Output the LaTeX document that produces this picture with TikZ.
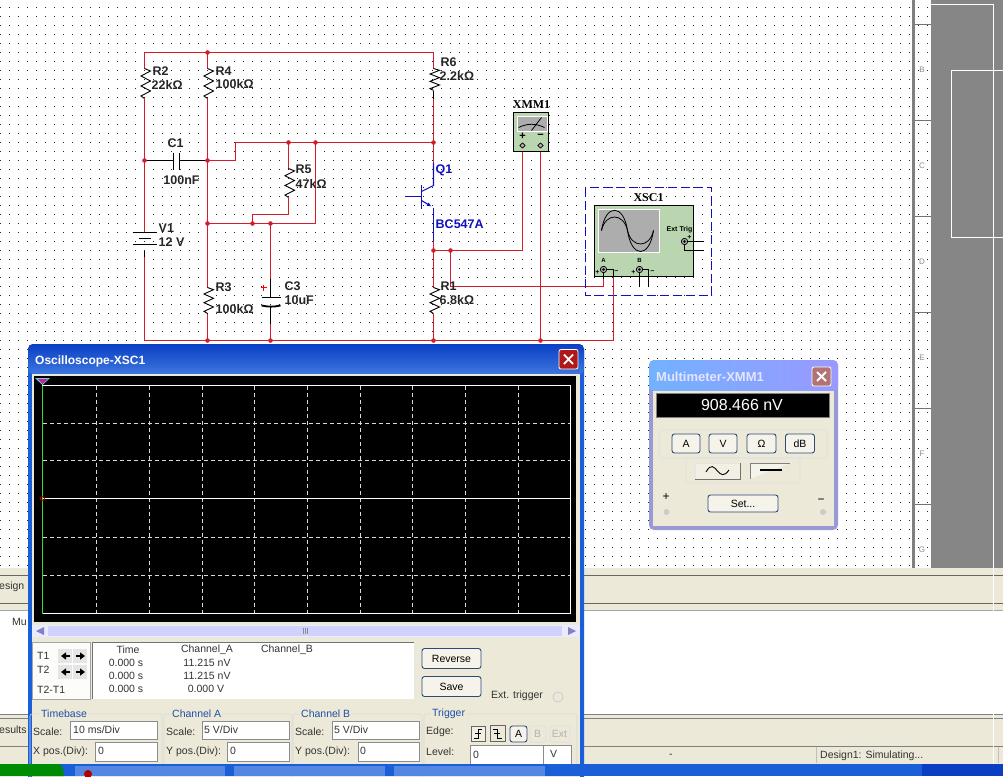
\documentclass[tikz,border=0pt]{standalone}
\usepackage{fontspec}
\setmainfont{Liberation Sans}
\newfontfamily\djv{DejaVu Sans}
\newfontfamily\mono{Liberation Serif}
\usetikzlibrary{arrows.meta,calc}
\definecolor{wirered}{HTML}{D21E2C}
\definecolor{partblue}{HTML}{1010C0}
\definecolor{instgreen}{HTML}{BAD6B0}
\definecolor{beige}{HTML}{ECE9D8}
\definecolor{xpblue}{HTML}{1A5FD8}
\definecolor{xpdark}{HTML}{0A3FC4}
\definecolor{railgrey}{HTML}{808080}
\definecolor{btnedge}{HTML}{2B4A78}
\definecolor{labelblue}{HTML}{1F4FA8}
\tikzset{
  wire/.style={draw=wirered,line width=1.1pt},
  part/.style={draw=black,line width=1pt},
  qpart/.style={draw=partblue,line width=1.1pt},
  junction/.style={circle,fill=wirered,draw=none,minimum size=4.6pt,inner sep=0pt},
  lbl/.style={anchor=west,inner sep=0pt,font=\fontsize{12.5}{12.5}\selectfont\bfseries,text=black!85},
  qlbl/.style={lbl,text=partblue},
  insttitle/.style={inner sep=0pt,font=\mono\fontsize{12}{12}\selectfont\bfseries},
  dlg/.style={anchor=west,inner sep=0pt,font=\fontsize{10.5}{10.5}\selectfont,text=black!80},
  dlgc/.style={inner sep=0pt,font=\fontsize{10.5}{10.5}\selectfont,text=black!80},
  grp/.style={anchor=west,inner sep=0pt,font=\fontsize{10.5}{10.5}\selectfont,text=labelblue},
  field/.style={draw=black!45,fill=white,line width=.6pt},
  xpbtn/.style={draw=btnedge,fill=beige!55!white,rounded corners=2.5pt,line width=.9pt},
  grpline/.style={draw=black!15,line width=.6pt,rounded corners=2pt},
  rulelbl/.style={inner sep=0pt,font=\fontsize{8}{8}\selectfont,text=black!45},
  gridl/.style={draw=white!85!black,line width=.8pt,dash pattern=on 4pt off 3pt},
}
\newcommand{\resis}[3]{% x, top, bottom
  \draw[part,line width=.9pt] (#1,#2)
    \foreach \i/\o in {1/6,3/-3.5,5/6,7/-3.5,9/6,11/-3.5}{ -- ({#1+\o},{#2+(#3-#2)*\i/12}) } -- (#1,#3);}
\begin{document}
\begin{tikzpicture}[x=1pt,y=-1pt]
\useasboundingbox (0,0) rectangle (1003,776);
\fill[white] (0,0) rectangle (1003,776);
% sheet dots, as dashed rows
\foreach \r in {0,...,62}{
  \draw[black!85,line width=1pt,dash pattern=on 1pt off 8pt] (0,{7.5+9*\r}) -- (931,{7.5+9*\r});
}
% right rail and grey desk
\fill[railgrey] (912,0) rectangle (915,568);
\fill[railgrey!95] (931,0) rectangle (1003,568);
\draw[white,line width=1pt] (931,4.5) -- (993.5,4.5) (993.5,4.5) -- (993.5,568);
\draw[white,line width=1pt] (951.5,237.5) -- (951.5,70.5) -- (1003,70.5) (951.5,237.5) -- (1003,237.5);
\foreach \y in {24,120,216,312,408,504}{\draw[black!55,line width=1pt] (915,\y+.5) -- (931,\y+.5);}
\node[rulelbl] (rB) at (922,70) {B};
\node[rulelbl] (rC) at (922,166) {C};
\node[rulelbl] (rD) at (922,262) {D};
\node[rulelbl] (rE) at (922,358) {E};
\node[rulelbl] (rF) at (922,454) {F};
\node[rulelbl] (rG) at (922,550) {G};
% lower bands
\fill[beige] (0,568) rectangle (1003,611);
\draw[black!60,line width=1pt] (0,575.5) -- (1003,575.5) (0,603.5) -- (1003,603.5);
\draw[black!35,line width=1pt] (0,610.5) -- (1003,610.5);
\fill[beige] (0,714) rectangle (1003,764);
\draw[black!50,line width=1pt] (0,714.5) -- (1003,714.5) (0,718.5) -- (1003,718.5);
\draw[black!50,line width=1pt] (0,746.5) -- (1003,746.5);
\draw[black!25,line width=1pt] (816.5,747) -- (816.5,763) (998.5,747) -- (998.5,763);
\draw[white,line width=.7pt] (993.5,568) -- (993.5,611) (993.5,714) -- (993.5,764);
\node[dlg] (tabd) at (-1,587) {esign};
\node[dlg] (tabm) at (12,622) {Mu};
\node[dlg] (tabr) at (-1,730) {esults};
\node[dlg] (dash) at (669,756) {-};
\node[dlg] (stat) at (820,756) {Design1: Simulating...};
\begin{scope}[shift={(0.5,0.5)}]
% coordinates
\coordinate (TL) at (144,52);
\coordinate (T4) at (207,52);
\coordinate (TR) at (433,52);
\coordinate (BL) at (144,340);
\coordinate (B3) at (207,340);
\coordinate (Bc) at (270,340);
\coordinate (Br) at (433,340);
\coordinate (Bm) at (540,340);
\coordinate (BA) at (613,340);
\coordinate (C1l) at (144,160);
\coordinate (C1r) at (207,160);
\coordinate (K1) at (235,160);
\coordinate (K2) at (235,142);
\coordinate (J5) at (288,142);
\coordinate (J6) at (315,142);
\coordinate (JC) at (433,142);
\coordinate (Jb) at (207,223);
\coordinate (Jk) at (252,223);
\coordinate (Jc) at (270,223);
\coordinate (K3) at (315,223);
\coordinate (K4) at (288,214);
\coordinate (K5) at (252,214);
\coordinate (Je) at (433,250);
\coordinate (Jo) at (450,250);
\coordinate (K6) at (522,250);
\coordinate (K7) at (450,286);
\coordinate (K8) at (603,286);
\coordinate (K9) at (522,151);
\coordinate (K10) at (540,151);
\coordinate (K11) at (613,270);
% wires
\draw[wire] (144,68) -- (TL) -- (TR) -- (433,68);
\draw[wire] (T4) -- (207,68);
\draw[wire] (144,98) -- (C1l) -- (144,232);
\draw[wire] (144,250) -- (BL) -- (BA) -- (K11);
\draw[wire] (207,98) -- (C1r) -- (Jb) -- (207,287);
\draw[wire] (207,313) -- (B3);
\draw[wire] (C1r) -- (K1) -- (K2) -- (JC);
\draw[wire] (433,98) -- (JC) -- (433,162);
\draw[wire] (J5) -- (288,168);
\draw[wire] (288,197) -- (K4) -- (K5) -- (Jk);
\draw[wire] (Jb) -- (K3) -- (J6);
\draw[wire] (Jc) -- (270,278);
\draw[wire] (270,323) -- (Bc);
\draw[wire] (433,240) -- (Je) -- (433,287);
\draw[wire] (433,313) -- (Br);
\draw[wire] (Je) -- (K6) -- (K9);
\draw[wire] (Jo) -- (K7) -- (K8);
\draw[wire] (K10) -- (Bm);
% resistors
\resis{144}{68}{98}
\resis{207}{68}{98}
\resis{433}{68}{90}
\resis{288}{168}{197}
\resis{207}{287}{313}
\resis{433}{287}{313}
\draw[part] (433,90) -- (433,98);
% C1
\draw[part] (C1l) -- (173,160) (179,160) -- (C1r);
\draw[part,line width=1.7pt] (173,152) -- (173,169) (179,152) -- (179,169);
% V1
\draw[part] (132,232) -- (156,232) (132,243.5) -- (156,243.5);
\draw[part] (138,238) -- (150,238);
\draw[part] (144,250) -- (144,256);
\foreach \j in {T4,C1l,C1r,J5,J6,JC,Jb,Jk,Jc,B3,Bc,Br,Bm,Je,Jo}{\node[junction] at (\j) {};}
% C3
\draw[part] (270,278) -- (270,297) (270,305) -- (270,323);
\draw[part,line width=1.8pt] (261,297) -- (280,297);
\draw[part,line width=1.8pt] (261,305) to[bend right=12] (280,305);
\draw[red,line width=.8pt] (260,287) -- (266,287) (263,284) -- (263,290);
% Q1
\draw[qpart] (433,162) -- (433,185) -- (421,191);
\draw[qpart,line width=1.2pt] (421,184) -- (421,208);
\draw[qpart] (405,196) -- (421,196);
\draw[qpart,-{Latex[length=4.5pt,width=4pt]}] (421,200) -- (431,206);
\draw[qpart] (433,207) -- (433,240);
% labels
\node[lbl] (R2) at (152,71) {R2};
\node[lbl] (R2v) at (151,84) {22kΩ};
\node[lbl] (R4) at (215,71) {R4};
\node[lbl] (R4v) at (215,84) {100kΩ};
\node[lbl] (R6) at (440,62) {R6};
\node[lbl] (R6v) at (439,75) {2.2kΩ};
\node[lbl,anchor=center] (C1) at (175,143) {C1};
\node[lbl,anchor=center] (C1v) at (181,180) {100nF};
\node[lbl] (R5) at (295,169) {R5};
\node[lbl] (R5v) at (295,183) {47kΩ};
\node[lbl] (V1) at (158,228) {V1};
\node[lbl] (V1v) at (158,242) {12 V};
\node[lbl] (R3) at (215,287) {R3};
\node[lbl] (R3v) at (215,309) {100kΩ};
\node[lbl] (C3) at (284,286) {C3};
\node[lbl] (C3v) at (284,300) {10uF};
\node[lbl] (R1) at (440,286) {R1};
\node[lbl] (R1v) at (439,300) {6.8kΩ};
\node[qlbl] (Q1) at (435,170) {Q1};
\node[qlbl] (Q1v) at (435,224) {BC547A};
% XMM1 instrument
\node[insttitle] (XMM) at (531,104) {XMM1};
\draw[black,fill=instgreen,line width=1pt] (513,112) rectangle (548,151);
\fill[black!32] (517,116) rectangle (547,131);
\draw[white,line width=.8pt] (517,116) rectangle (547,131);
\draw[black,line width=.8pt] (518,127) to[bend left=25] (544,127) (531,130) -- (541,117);
\node[inner sep=0pt,font=\fontsize{11}{11}\selectfont\bfseries] (mp) at (522,136) {+};
\node[inner sep=0pt,font=\fontsize{11}{11}\selectfont\bfseries] (mm) at (540,136) {−};
\foreach \x in {522,540}{\draw[black,fill=black!30,line width=.7pt] (\x,142.5) -- (\x+2.7,145) -- (\x,147.5) -- (\x-2.7,145) -- cycle;}
% XSC1 instrument
\draw[partblue,line width=1pt,dash pattern=on 9pt off 4pt] (585,187) rectangle (711,295);
\node[insttitle] (XSC) at (648,197) {XSC1};
\draw[black,fill=instgreen,line width=1pt] (594,205) rectangle (693,276);
\fill[black!32] (598,209) rectangle (659,252);
\draw[white,line width=.8pt] (598,209) rectangle (659,252);
\draw[black,line width=.8pt] (601,230) .. controls (605,203) and (623,203) .. (627,230) .. controls (631,258) and (649,258) .. (653,230);
\draw[black,line width=.8pt] (601,230) .. controls (605,212) and (623,212) .. (627,230) .. controls (631,248) and (649,248) .. (653,230);
\node[inner sep=0pt,font=\fontsize{7}{7}\selectfont\bfseries] (xext) at (679,229.5) {Ext Trig};
\node[inner sep=0pt,font=\fontsize{6}{6}\selectfont\bfseries] (xa) at (603,260) {A};
\node[inner sep=0pt,font=\fontsize{6}{6}\selectfont\bfseries] (xb) at (639,260) {B};
\foreach \t/\x/\y in {ap/597/272,bp/633/272,ep/689/237}{\node[inner sep=0pt,font=\fontsize{7}{7}\selectfont\bfseries] (x\t) at (\x,\y) {+};}
\foreach \t/\x/\y in {am/616/272,bm/652/272,em/689/252}{\node[inner sep=0pt,font=\fontsize{7}{7}\selectfont\bfseries] (x\t) at (\x,\y) {−};}
\draw[black,line width=.8pt] (603,269) -- (603,286) (603,269) -- (613,269) -- (613,276);
\draw[wire] (603,278) -- (603,286);
\draw[wire] (613,276) -- (613,340);
\draw[black,line width=.8pt] (639,269) -- (639,286) (639,269) -- (648,269) -- (648,286);
\draw[black,line width=.8pt] (684,241) -- (703,241) (684,241) -- (684,250) -- (703,250);
\foreach \x/\y in {603/269,639/269,684/241}{\draw[black,fill=black!35,line width=.7pt] (\x,\y) circle (3.2pt); \fill[black] (\x,\y) circle (1.4pt);}
\end{scope}
% ===== Oscilloscope window =====
\fill[xpblue,rounded corners=5pt] (28,344) rectangle (584,790);
\shade[rounded corners=5pt,top color=xpdark,bottom color=xpblue!85!white] (28,344) rectangle (584,374);
\fill[beige] (32,374) rectangle (580,790);
\node[inner sep=0pt,anchor=west,text=white,font=\fontsize{12}{12}\selectfont\bfseries] (otitle) at (35,361) {Oscilloscope-XSC1};
\draw[white,fill=red!65!black!90,rounded corners=2pt,line width=.8pt] (559,349.5) rectangle (578,369);
\draw[white,line width=1.8pt] (564,354.5) -- (573,364) (573,354.5) -- (564,364);
% screen
\fill[black] (34,376) rectangle (576,622);
\begin{scope}[shift={(0.5,0.5)}]
\foreach \x in {96,149,202,254,307,360,412,465,518}{\draw[gridl] (\x,385) -- (\x,613);}
\foreach \y in {423,460,537,575}{\draw[gridl] (42,\y) -- (570,\y);}
\draw[white,line width=1pt] (42,385) rectangle (570,613);
\draw[green!75!white!85!black,line width=1pt] (42,385) -- (42,613);
\draw[white,line width=1.1pt] (42,498) -- (570,498);
\draw[red!85!black,line width=.7pt] (42,498) circle (2pt);
\end{scope}
\fill[cyan!60!white] (35,378) -- (50,378) -- (42.5,385) -- cycle;
\fill[magenta!85!black] (38,379) -- (48,379) -- (42.5,384) -- cycle;
% scrollbar
\fill[blue!8!white] (32,625) rectangle (580,637);
\fill[blue!18!white] (48,626) rectangle (562,636);
\fill[blue!55!black!50] (36,631) -- (44,627) -- (44,635) -- cycle (576,631) -- (568,627) -- (568,635) -- cycle;
\foreach \x in {303,305,307}{\draw[black!45,line width=.5pt] (\x,628) -- (\x,634);}
% cursor table
\draw[black!35,line width=.8pt,fill=beige!80!black!5] (32,642) rectangle (90,699);
\node[dlg] (t1) at (37,656) {T1};
\node[dlg] (t2) at (37,670) {T2};
\node[dlg] (t21) at (37,690) {T2-T1};
\foreach \x/\y in {65/656,80/656,65/672,80/672}{
  \fill[black!10] (\x-7,\y-7) rectangle (\x+7,\y+7);
}
\draw[-{Triangle[length=5pt,width=7pt]},line width=1.6pt] (70,656) -- (61,656);
\draw[-{Triangle[length=5pt,width=7pt]},line width=1.6pt] (76,656) -- (85,656);
\draw[-{Triangle[length=5pt,width=7pt]},line width=1.6pt] (70,672) -- (61,672);
\draw[-{Triangle[length=5pt,width=7pt]},line width=1.6pt] (76,672) -- (85,672);
\fill[white] (92,642) rectangle (414,699);
\draw[black!55,line width=1pt] (92,699) -- (92,642) -- (414,642);
\node[dlgc] (h1) at (128,650) {Time};
\node[dlgc] (h2) at (207,650) {Channel\_A};
\node[dlgc] (h3) at (287,650) {Channel\_B};
\node[dlgc] (a1) at (126,663) {0.000 s};
\node[dlgc] (a2) at (126,676) {0.000 s};
\node[dlgc] (a3) at (126,689) {0.000 s};
\node[dlgc] (b1) at (207,663) {11.215 nV};
\node[dlgc] (b2) at (207,676) {11.215 nV};
\node[dlgc] (b3) at (206,689) {0.000 V};
\node[xpbtn,minimum width=59pt,minimum height=20pt,inner sep=0pt,font=\fontsize{10.5}{10.5}\selectfont] (rev) at (451.5,658.5) {Reverse};
\node[xpbtn,minimum width=59pt,minimum height=20pt,inner sep=0pt,font=\fontsize{10.5}{10.5}\selectfont] (sav) at (451.5,686.5) {Save};
\node[dlg] (ext) at (491,696) {Ext. trigger};
\draw[black!20,line width=.8pt] (558,697) circle (5pt);
% group boxes
\draw[grpline] (30,714) rectangle (162,780);
\draw[grpline] (164,714) rectangle (292,780);
\draw[grpline] (293,714) rectangle (422,780);
\draw[grpline] (424,714) rectangle (577,780);
\node[grp,fill=beige,inner xsep=1pt] (gt) at (40,714) {Timebase};
\node[grp,fill=beige,inner xsep=1pt] (ga) at (171,714) {Channel A};
\node[grp,fill=beige,inner xsep=1pt] (gb) at (300,714) {Channel B};
\node[grp,fill=beige,inner xsep=1pt] (gr) at (431,714) {Trigger};
\draw[field] (70.5,721) rectangle (157,739);
\draw[field] (95,742) rectangle (157,761);
\draw[field] (202,721) rectangle (289,739);
\draw[field] (227,742) rectangle (289,761);
\draw[field] (332,721) rectangle (419,739);
\draw[field] (358,742) rectangle (419,761);
\draw[field] (470,745) rectangle (543,770);
\draw[field] (543,745) rectangle (571,770);
\node[dlg] (s1) at (33,732) {Scale:};
\node[dlg] (s1v) at (73,730) {10 ms/Div};
\node[dlg] (x1) at (33,752) {X pos.(Div):};
\node[dlg] (x1v) at (98,751) {0};
\node[dlg] (s2) at (166,732) {Scale:};
\node[dlg] (s2v) at (204,730) {5  V/Div};
\node[dlg] (y2) at (166,752) {Y pos.(Div):};
\node[dlg] (y2v) at (230,751) {0};
\node[dlg] (s3) at (295,732) {Scale:};
\node[dlg] (s3v) at (334,730) {5  V/Div};
\node[dlg] (y3) at (295,752) {Y pos.(Div):};
\node[dlg] (y3v) at (360,751) {0};
\node[dlg] (e1) at (426,732) {Edge:};
\node[dlg] (l1) at (426,752) {Level:};
\node[dlg] (l1v) at (473,755) {0};
\node[dlg] (l1u) at (550,754) {V};
% edge buttons
\draw[black!60,fill=beige!70!white,line width=.8pt] (471,726) rectangle (485,741);
\draw[black!60,fill=beige,line width=.8pt] (490,725) rectangle (505,741);
\draw[black,line width=.9pt] (474,738) -- (478,738) -- (478,729) -- (482,729) (475,733.5) -- (481,733.5);
\draw[black,line width=.9pt] (493,729) -- (497,729) -- (497,738) -- (502,738) (494,733.5) -- (500,733.5);
\node[xpbtn,minimum width=17pt,minimum height=16pt,inner sep=0pt,font=\fontsize{10.5}{10.5}\selectfont] (tA) at (518.5,734) {A};
\node[inner sep=0pt,text=black!30,font=\fontsize{10.5}{10.5}\selectfont] (tB) at (537.5,734) {B};
\node[inner sep=0pt,text=black!30,font=\fontsize{10.5}{10.5}\selectfont] (tE) at (559.5,734) {Ext};
\draw[black!12,rounded corners=2pt,line width=.7pt] (530,726) rectangle (546,742) (550,726) rectangle (570,742);
% taskbar, over the window
\fill[xpblue] (0,764) rectangle (1003,776);
\fill[green!55!black] (0,764) -- (58,764) to[out=0,in=100] (64,776) -- (0,776) -- cycle;
\foreach \a/\b in {75/225,234/385,394/545}{\fill[xpblue!75!white] (\a,766) rectangle (\b,776);}
\fill[xpdark] (922,764) rectangle (1003,776);
\fill[red!70!black] (88,774) circle (4pt);
% ===== Multimeter window =====
\fill[blue!60!black!40!white,rounded corners=5pt] (649,360) rectangle (838,530);
\shade[rounded corners=5pt,left color=blue!55!cyan!55!white,right color=blue!40!white] (649,360) rectangle (838,391);
\fill[beige] (653,391) rectangle (834,526);
\node[inner sep=0pt,anchor=west,text=blue!10!white,font=\fontsize{13}{13}\selectfont\bfseries] (mtitle) at (656,377) {Multimeter-XMM1};
\draw[white,fill=red!45!black!55!white,rounded corners=2pt,line width=.8pt] (812,367) rectangle (831,386);
\draw[white,line width=1.8pt] (817,372) -- (826,381) (826,372) -- (817,381);
\draw[black!50,fill=black,line width=1pt] (656.5,393.5) rectangle (829.5,417.5);
\node[inner sep=0pt,text=white,font=\fontsize{16}{16}\selectfont] (mval) at (742,405) {908.466 nV};
\draw[grpline,draw=black!12] (659,430) rectangle (827,458);
\draw[grpline,draw=black!12] (686,458) rectangle (800,483);
\foreach \n/\c/\w/\t in {ba/686/28/A,bv/723/28/V,bo/761.5/29/Ω,bd/800/29/dB}{
  \node[xpbtn,minimum width=\w pt,minimum height=19pt,inner sep=0pt,font=\fontsize{10.5}{10.5}\selectfont] (\n) at (\c,443.5) {\t};
}
\draw[black!10,line width=.8pt,fill=beige!70!white] (695,463) rectangle (740,479);
\draw[black!55,line width=.9pt] (695,479) -- (740,479) -- (740,463);
\draw[black,line width=.9pt] (706,472) .. controls (711,463) and (714,467) .. (717.5,471) .. controls (721,475) and (724,477) .. (729,470);
\draw[black!50,line width=.9pt,fill=white!50!beige] (750,479) -- (750,463) -- (790,463);
\draw[black,line width=1.2pt] (760,470) -- (782,470);
\node[xpbtn,minimum width=70pt,minimum height=17pt,inner sep=0pt,font=\fontsize{10.5}{10.5}\selectfont] (mset) at (743,503.5) {Set...};
\node[inner sep=0pt,font=\fontsize{12}{12}\selectfont] (mpl) at (666,497) {+};
\node[inner sep=0pt,font=\fontsize{12}{12}\selectfont] (mmi) at (821,501) {−};
\fill[black!20] (666.5,512) circle (3pt) (823,512) circle (3pt);
\end{tikzpicture}
\end{document}
